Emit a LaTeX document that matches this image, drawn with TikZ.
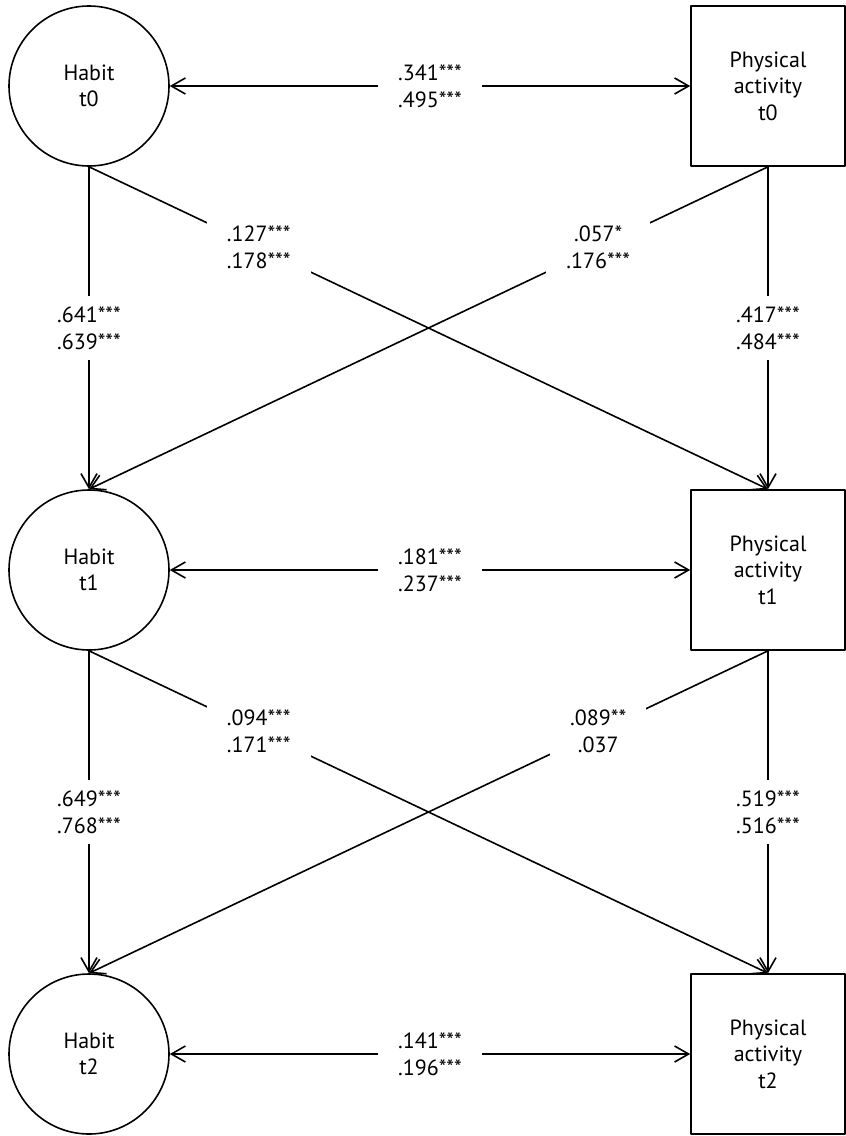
\documentclass[tikz,border=0pt]{standalone}
\usepackage{fontspec}
\setmainfont{PT Sans}
\usetikzlibrary{arrows.meta}
\begin{document}
\begin{tikzpicture}[x=0.5pt, y=-0.5pt, line width=0.8pt, line join=round,
    font=\fontsize{11}{13.3}\selectfont, >={Straight Barb[length=7pt,width=8pt]},
    habit/.style={circle, draw, minimum size=80pt, inner sep=0pt, align=center},
    pa/.style={rectangle, draw, minimum width=77pt, minimum height=80pt, inner sep=0pt, align=center},
    coef/.style={fill=white, align=center, inner xsep=10pt, inner ysep=5.5pt}]
    \useasboundingbox (0,0) rectangle (846,1136);
    \foreach \i/\y in {0/86,1/570,2/1054} {
        \node[habit] (h\i) at (89,\y) {Habit\\t\i};
        \node[pa] (pa\i) at (768,\y) {Physical\\activity\\t\i};
    }
    % correlations
    \draw[<->] (h0) -- (pa0) node[coef,midway] {.341***\\.495***};
    \draw[<->] (h1) -- (pa1) node[coef,midway] {.181***\\.237***};
    \draw[<->] (h2) -- (pa2) node[coef,midway] {.141***\\.196***};
    % stability paths
    \draw[->] (h0) -- (h1) node[coef,midway] {.641***\\.639***};
    \draw[->] (h1) -- (h2) node[coef,midway] {.649***\\.768***};
    \draw[->] (pa0) -- (pa1) node[coef,midway] {.417***\\.484***};
    \draw[->] (pa1) -- (pa2) node[coef,midway] {.519***\\.516***};
    % cross-lagged paths
    \draw[->] (h0.south) -- (pa1.north) node[coef,pos=0.25] {.127***\\.178***};
    \draw[->] (pa0.south) -- (h1.north) node[coef,pos=0.25] {.057*\\.176***};
    \draw[->] (h1.south) -- (pa2.north) node[coef,pos=0.25] {.094***\\.171***};
    \draw[->] (pa1.south) -- (h2.north) node[coef,pos=0.25] {.089**\\.037};
\end{tikzpicture}
\end{document}
